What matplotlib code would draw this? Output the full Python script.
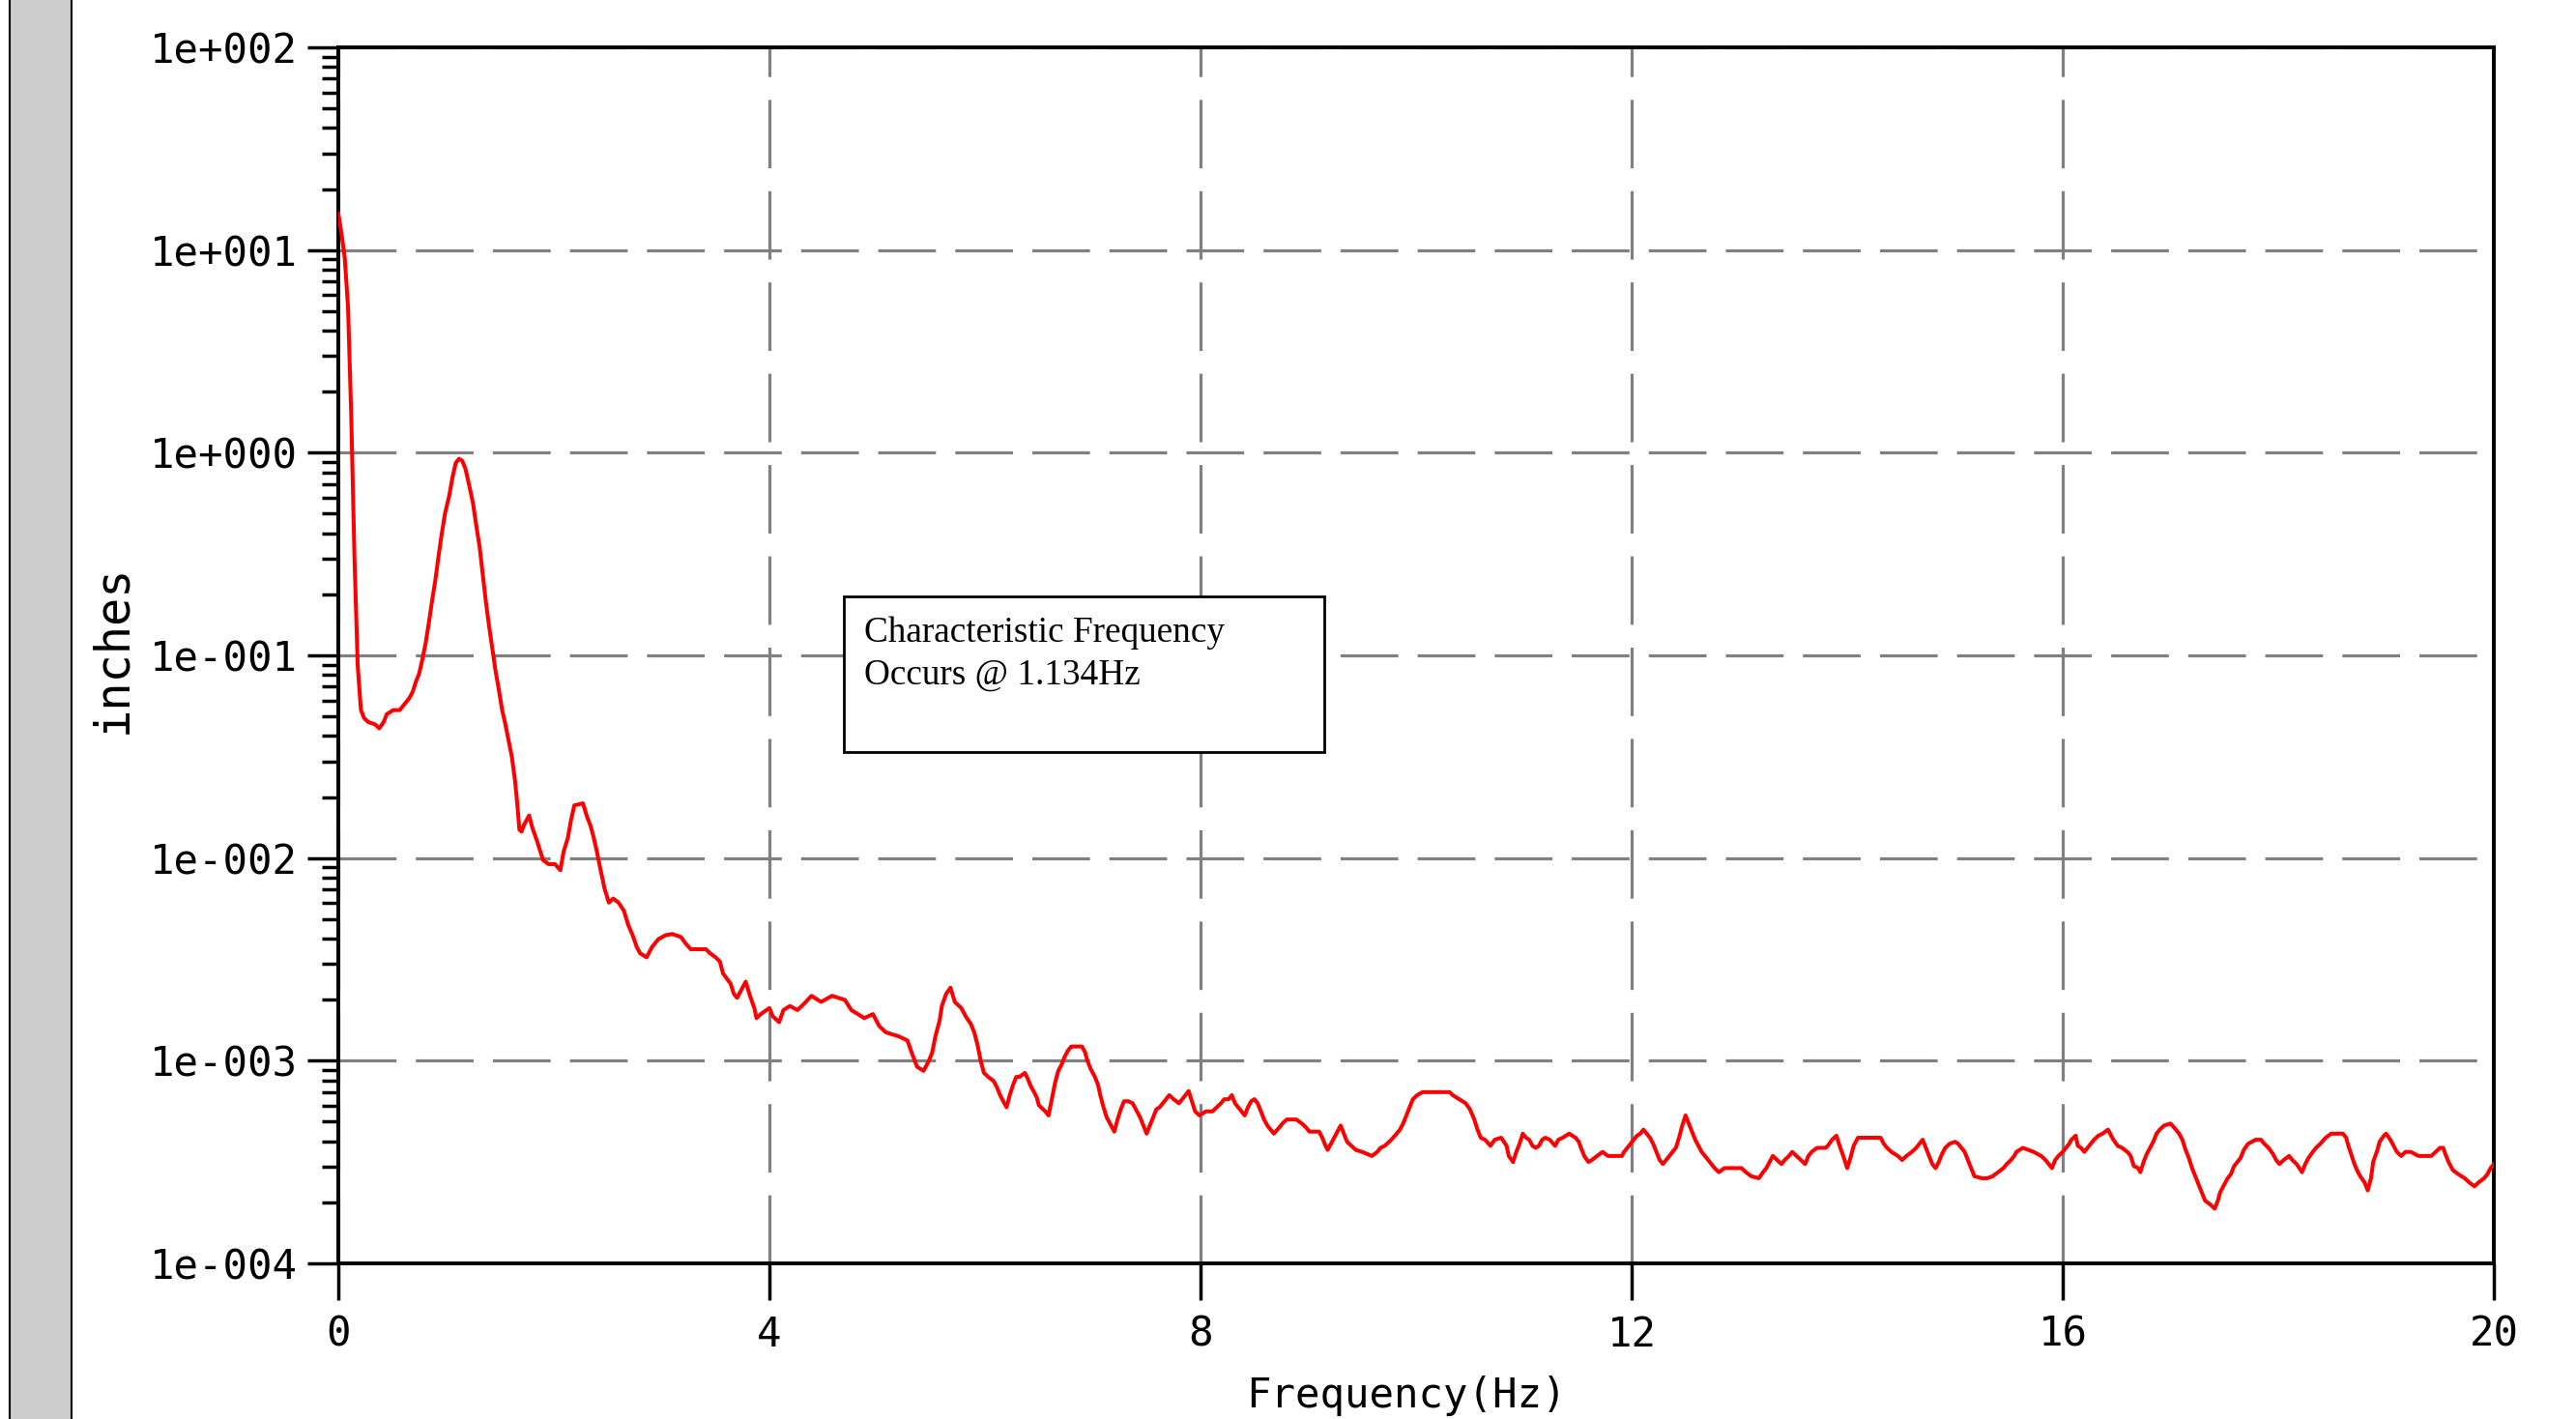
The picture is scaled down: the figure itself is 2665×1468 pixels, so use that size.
import numpy as np
import matplotlib.pyplot as plt
from matplotlib.patches import Rectangle
from matplotlib.ticker import FixedLocator, FuncFormatter, LogLocator, NullFormatter

# spectrum (frequency in Hz, amplitude as log10 of inches)
freq = [
    0.00, 0.03, 0.06, 0.09, 0.12, 0.15, 0.18, 0.21, 0.24, 0.28,
    0.34, 0.38, 0.42, 0.45, 0.51, 0.57, 0.60, 0.63, 0.66, 0.69,
    0.72, 0.75, 0.78, 0.81, 0.84, 0.87, 0.90, 0.93, 0.96, 0.99,
    1.03, 1.06, 1.09, 1.12, 1.15, 1.18, 1.21, 1.25, 1.28, 1.31,
    1.34, 1.37, 1.40, 1.43, 1.46, 1.49, 1.52, 1.55, 1.58, 1.61,
    1.64, 1.66, 1.68, 1.70, 1.72, 1.77, 1.80, 1.84, 1.87, 1.90,
    1.95, 2.01, 2.06, 2.09, 2.13, 2.16, 2.19, 2.27, 2.31, 2.34,
    2.37, 2.40, 2.43, 2.47, 2.51, 2.55, 2.60, 2.65, 2.69, 2.73,
    2.77, 2.80, 2.86, 2.91, 2.97, 3.04, 3.10, 3.18, 3.22, 3.27,
    3.41, 3.45, 3.50, 3.54, 3.57, 3.64, 3.67, 3.70, 3.74, 3.78,
    3.82, 3.86, 3.88, 3.92, 4.00, 4.03, 4.09, 4.13, 4.19, 4.26,
    4.32, 4.39, 4.48, 4.58, 4.70, 4.76, 4.82, 4.88, 4.96, 5.02,
    5.08, 5.20, 5.28, 5.32, 5.37, 5.43, 5.48, 5.51, 5.54, 5.58,
    5.60, 5.64, 5.68, 5.72, 5.78, 5.82, 5.87, 5.90, 5.93, 5.96,
    5.99, 6.03, 6.08, 6.11, 6.14, 6.17, 6.20, 6.23, 6.26, 6.29,
    6.32, 6.37, 6.39, 6.42, 6.45, 6.48, 6.50, 6.56, 6.59, 6.62,
    6.65, 6.68, 6.71, 6.74, 6.77, 6.80, 6.90, 6.93, 6.95, 6.98,
    7.02, 7.05, 7.07, 7.10, 7.13, 7.17, 7.20, 7.23, 7.26, 7.29,
    7.33, 7.37, 7.40, 7.44, 7.47, 7.50, 7.53, 7.56, 7.59, 7.62,
    7.65, 7.68, 7.71, 7.75, 7.80, 7.83, 7.86, 7.89, 7.92, 7.95,
    7.99, 8.05, 8.11, 8.15, 8.19, 8.22, 8.26, 8.29, 8.32, 8.35,
    8.38, 8.41, 8.44, 8.47, 8.50, 8.53, 8.56, 8.59, 8.62, 8.65,
    8.68, 8.73, 8.76, 8.80, 8.89, 8.94, 8.98, 9.01, 9.10, 9.13,
    9.16, 9.18, 9.22, 9.25, 9.28, 9.30, 9.33, 9.36, 9.40, 9.44,
    9.50, 9.59, 9.64, 9.67, 9.71, 9.77, 9.82, 9.85, 9.88, 9.91,
    9.94, 9.97, 10.01, 10.06, 10.31, 10.34, 10.40, 10.46, 10.50, 10.54,
    10.57, 10.60, 10.64, 10.69, 10.73, 10.79, 10.84, 10.86, 10.90, 10.93,
    10.96, 10.99, 11.02, 11.05, 11.08, 11.11, 11.14, 11.17, 11.20, 11.24,
    11.29, 11.32, 11.36, 11.42, 11.48, 11.51, 11.53, 11.56, 11.60, 11.63,
    11.68, 11.73, 11.78, 11.91, 11.93, 11.96, 11.99, 12.02, 12.05, 12.08,
    12.11, 12.14, 12.17, 12.20, 12.23, 12.26, 12.29, 12.32, 12.35, 12.38,
    12.41, 12.44, 12.47, 12.50, 12.53, 12.56, 12.59, 12.62, 12.65, 12.68,
    12.71, 12.74, 12.77, 12.81, 12.86, 13.02, 13.06, 13.11, 13.18, 13.22,
    13.25, 13.28, 13.31, 13.35, 13.39, 13.42, 13.46, 13.49, 13.53, 13.57,
    13.61, 13.64, 13.67, 13.72, 13.80, 13.82, 13.86, 13.90, 13.93, 13.97,
    14.00, 14.03, 14.06, 14.10, 14.31, 14.34, 14.37, 14.41, 14.47, 14.51,
    14.55, 14.60, 14.64, 14.67, 14.70, 14.73, 14.76, 14.79, 14.82, 14.85,
    14.88, 14.91, 14.95, 15.00, 15.03, 15.06, 15.09, 15.12, 15.15, 15.18,
    15.25, 15.30, 15.35, 15.40, 15.45, 15.48, 15.52, 15.55, 15.57, 15.63,
    15.73, 15.80, 15.84, 15.87, 15.90, 15.93, 15.96, 16.00, 16.03, 16.06,
    16.08, 16.12, 16.14, 16.17, 16.20, 16.23, 16.26, 16.29, 16.33, 16.37,
    16.42, 16.45, 16.47, 16.51, 16.55, 16.60, 16.63, 16.66, 16.70, 16.72,
    16.75, 16.78, 16.81, 16.84, 16.87, 16.90, 16.94, 17.00, 17.05, 17.08,
    17.11, 17.14, 17.17, 17.20, 17.23, 17.26, 17.29, 17.32, 17.37, 17.41,
    17.44, 17.46, 17.50, 17.53, 17.56, 17.59, 17.62, 17.65, 17.68, 17.72,
    17.79, 17.84, 17.87, 17.91, 17.95, 17.98, 18.01, 18.05, 18.10, 18.13,
    18.17, 18.22, 18.25, 18.28, 18.32, 18.35, 18.39, 18.44, 18.49, 18.60,
    18.63, 18.65, 18.67, 18.70, 18.73, 18.76, 18.80, 18.83, 18.86, 18.88,
    18.92, 18.94, 18.98, 19.00, 19.04, 19.07, 19.10, 19.14, 19.18, 19.23,
    19.30, 19.42, 19.46, 19.50, 19.53, 19.55, 19.58, 19.62, 19.67, 19.73,
    19.77, 19.82, 19.86, 19.91, 19.94, 19.97, 20.00,
]
amp_log = [
    1.18, 1.08, 0.96, 0.72, 0.18, -0.52, -1.05, -1.27, -1.31, -1.33,
    -1.34, -1.36, -1.33, -1.29, -1.27, -1.27, -1.25, -1.23, -1.21, -1.18,
    -1.13, -1.09, -1.02, -0.94, -0.84, -0.73, -0.63, -0.51, -0.40, -0.30,
    -0.21, -0.12, -0.05, -0.03, -0.04, -0.08, -0.15, -0.25, -0.36, -0.46,
    -0.60, -0.74, -0.86, -0.97, -1.08, -1.17, -1.27, -1.34, -1.42, -1.50,
    -1.62, -1.73, -1.86, -1.87, -1.84, -1.79, -1.85, -1.91, -1.96, -2.01,
    -2.03, -2.03, -2.06, -1.97, -1.90, -1.81, -1.74, -1.73, -1.80, -1.84,
    -1.90, -1.97, -2.05, -2.15, -2.22, -2.20, -2.22, -2.26, -2.33, -2.38,
    -2.44, -2.47, -2.49, -2.44, -2.40, -2.38, -2.375, -2.39, -2.42, -2.45,
    -2.45, -2.47, -2.49, -2.51, -2.57, -2.62, -2.67, -2.69, -2.65, -2.61,
    -2.68, -2.74, -2.79, -2.77, -2.74, -2.78, -2.81, -2.75, -2.73, -2.75,
    -2.72, -2.68, -2.71, -2.68, -2.70, -2.75, -2.77, -2.79, -2.77, -2.83,
    -2.86, -2.88, -2.90, -2.96, -3.03, -3.05, -3.00, -2.96, -2.88, -2.80,
    -2.73, -2.67, -2.64, -2.71, -2.74, -2.78, -2.82, -2.86, -2.92, -3.00,
    -3.06, -3.08, -3.10, -3.13, -3.17, -3.20, -3.23, -3.17, -3.12, -3.08,
    -3.08, -3.06, -3.08, -3.12, -3.15, -3.18, -3.22, -3.25, -3.27, -3.19,
    -3.11, -3.05, -3.02, -2.98, -2.95, -2.93, -2.93, -2.96, -3.00, -3.04,
    -3.08, -3.12, -3.17, -3.23, -3.28, -3.32, -3.35, -3.29, -3.24, -3.20,
    -3.20, -3.21, -3.24, -3.28, -3.32, -3.36, -3.32, -3.28, -3.24, -3.23,
    -3.21, -3.19, -3.17, -3.19, -3.21, -3.19, -3.17, -3.15, -3.20, -3.25,
    -3.27, -3.25, -3.25, -3.23, -3.21, -3.19, -3.19, -3.17, -3.21, -3.23,
    -3.25, -3.27, -3.23, -3.20, -3.19, -3.21, -3.25, -3.29, -3.32, -3.34,
    -3.36, -3.33, -3.31, -3.29, -3.29, -3.31, -3.33, -3.35, -3.35, -3.38,
    -3.42, -3.44, -3.40, -3.37, -3.34, -3.32, -3.36, -3.40, -3.42, -3.44,
    -3.45, -3.47, -3.45, -3.43, -3.42, -3.39, -3.36, -3.34, -3.31, -3.27,
    -3.23, -3.19, -3.17, -3.155, -3.155, -3.17, -3.19, -3.21, -3.24, -3.29,
    -3.34, -3.38, -3.39, -3.42, -3.39, -3.38, -3.42, -3.47, -3.50, -3.45,
    -3.41, -3.36, -3.38, -3.39, -3.42, -3.43, -3.42, -3.39, -3.38, -3.39,
    -3.42, -3.39, -3.38, -3.36, -3.38, -3.40, -3.43, -3.47, -3.50, -3.49,
    -3.47, -3.45, -3.47, -3.47, -3.45, -3.43, -3.41, -3.39, -3.37, -3.36,
    -3.34, -3.36, -3.38, -3.41, -3.45, -3.49, -3.51, -3.49, -3.47, -3.45,
    -3.43, -3.38, -3.32, -3.27, -3.31, -3.35, -3.39, -3.42, -3.45, -3.47,
    -3.49, -3.51, -3.53, -3.55, -3.53, -3.53, -3.55, -3.57, -3.58, -3.55,
    -3.53, -3.50, -3.47, -3.49, -3.51, -3.49, -3.47, -3.45, -3.47, -3.49,
    -3.51, -3.47, -3.45, -3.43, -3.43, -3.42, -3.39, -3.37, -3.42, -3.48,
    -3.53, -3.48, -3.42, -3.38, -3.38, -3.41, -3.43, -3.45, -3.47, -3.49,
    -3.47, -3.45, -3.43, -3.41, -3.39, -3.43, -3.47, -3.51, -3.53, -3.50,
    -3.46, -3.43, -3.41, -3.40, -3.41, -3.43, -3.45, -3.49, -3.53, -3.57,
    -3.58, -3.58, -3.57, -3.55, -3.53, -3.51, -3.49, -3.47, -3.45, -3.43,
    -3.45, -3.47, -3.49, -3.51, -3.53, -3.49, -3.47, -3.45, -3.43, -3.41,
    -3.39, -3.37, -3.42, -3.43, -3.45, -3.43, -3.41, -3.39, -3.37, -3.36,
    -3.34, -3.37, -3.39, -3.42, -3.43, -3.45, -3.47, -3.52, -3.53, -3.55,
    -3.50, -3.46, -3.43, -3.40, -3.36, -3.34, -3.32, -3.31, -3.34, -3.36,
    -3.39, -3.44, -3.48, -3.53, -3.57, -3.61, -3.65, -3.69, -3.71, -3.73,
    -3.69, -3.65, -3.61, -3.58, -3.56, -3.52, -3.50, -3.48, -3.44, -3.41,
    -3.39, -3.39, -3.41, -3.43, -3.46, -3.49, -3.51, -3.49, -3.47, -3.49,
    -3.51, -3.55, -3.51, -3.48, -3.45, -3.43, -3.41, -3.38, -3.36, -3.36,
    -3.38, -3.42, -3.45, -3.50, -3.54, -3.57, -3.60, -3.64, -3.58, -3.50,
    -3.44, -3.40, -3.37, -3.36, -3.39, -3.42, -3.45, -3.47, -3.45, -3.45,
    -3.47, -3.47, -3.45, -3.43, -3.43, -3.46, -3.50, -3.54, -3.56, -3.58,
    -3.60, -3.62, -3.60, -3.58, -3.56, -3.53, -3.51,
]

x_ticks = [0, 4, 8, 12, 16, 20]
y_ticks = [1e-4, 1e-3, 1e-2, 1e-1, 1e0, 1e1, 1e2]
note_lines = ['Characteristic Frequency', 'Occurs @ 1.134Hz']

plt.rcParams['font.family'] = 'DejaVu Sans Mono'
plt.rcParams['lines.scale_dashes'] = False

fig = plt.figure(figsize=(26.65, 14.68), dpi=100)
ax = fig.add_axes([350 / 2665, 1 - 1307 / 1468, 2230 / 2665, 1258 / 1468])

# grey strip on the left edge of the window
fig.patches.append(Rectangle((10 / 2665, -0.01), 64 / 2665, 1.02, transform=fig.transFigure,
                             facecolor='#cccccc', edgecolor='black', lw=1.5))

ax.plot(freq, 10 ** np.array(amp_log), color='red', lw=2.9, zorder=3)

ax.set_yscale('log')
ax.set_xlim(0, 20)
ax.set_ylim(1e-4, 1e2)

ax.xaxis.set_major_locator(FixedLocator(x_ticks))
ax.yaxis.set_major_locator(FixedLocator(y_ticks))
ax.yaxis.set_major_formatter(FuncFormatter(lambda v, p: '1e{:+04d}'.format(int(round(np.log10(v))))))
ax.yaxis.set_minor_locator(LogLocator(base=10, subs=np.arange(2, 10), numticks=20))
ax.yaxis.set_minor_formatter(NullFormatter())

ax.tick_params(axis='y', which='major', direction='out', length=23, width=2.5, pad=7, labelsize=30.5)
ax.tick_params(axis='y', which='minor', direction='out', length=12, width=2.5)
ax.tick_params(axis='x', which='major', direction='out', length=27, width=2.5, pad=11, labelsize=30.5)

ax.yaxis.grid(True, which='major', color='#808080', lw=2.3, linestyle=(0, (43, 14.4)))
ax.xaxis.grid(True, which='major', color='#808080', lw=2.3, linestyle=(0, (51, 17)))

for s in ax.spines.values():
    s.set_linewidth(2.8)
    s.set_color('black')

# annotation box
ax.add_patch(Rectangle((0.2345, 0.4205), 0.2229, 0.128, transform=ax.transAxes,
                       facecolor='white', edgecolor='black', lw=2, zorder=4))
ax.text(0.2440, 0.5111, note_lines[0], transform=ax.transAxes, family='Liberation Serif',
        fontsize=26.8, va='baseline', ha='left', zorder=5)
ax.text(0.2440, 0.4762, note_lines[1], transform=ax.transAxes, family='Liberation Serif',
        fontsize=26.8, va='baseline', ha='left', zorder=5)

fig.text(1455 / 2665, 12 / 1468, 'Frequency(Hz)', ha='center', va='baseline', fontsize=30.5)
fig.text(116 / 2665, 1 - 671 / 1468, 'inches', rotation=90, ha='center', va='center', fontsize=35)

fig.savefig('out.png', dpi=100)
